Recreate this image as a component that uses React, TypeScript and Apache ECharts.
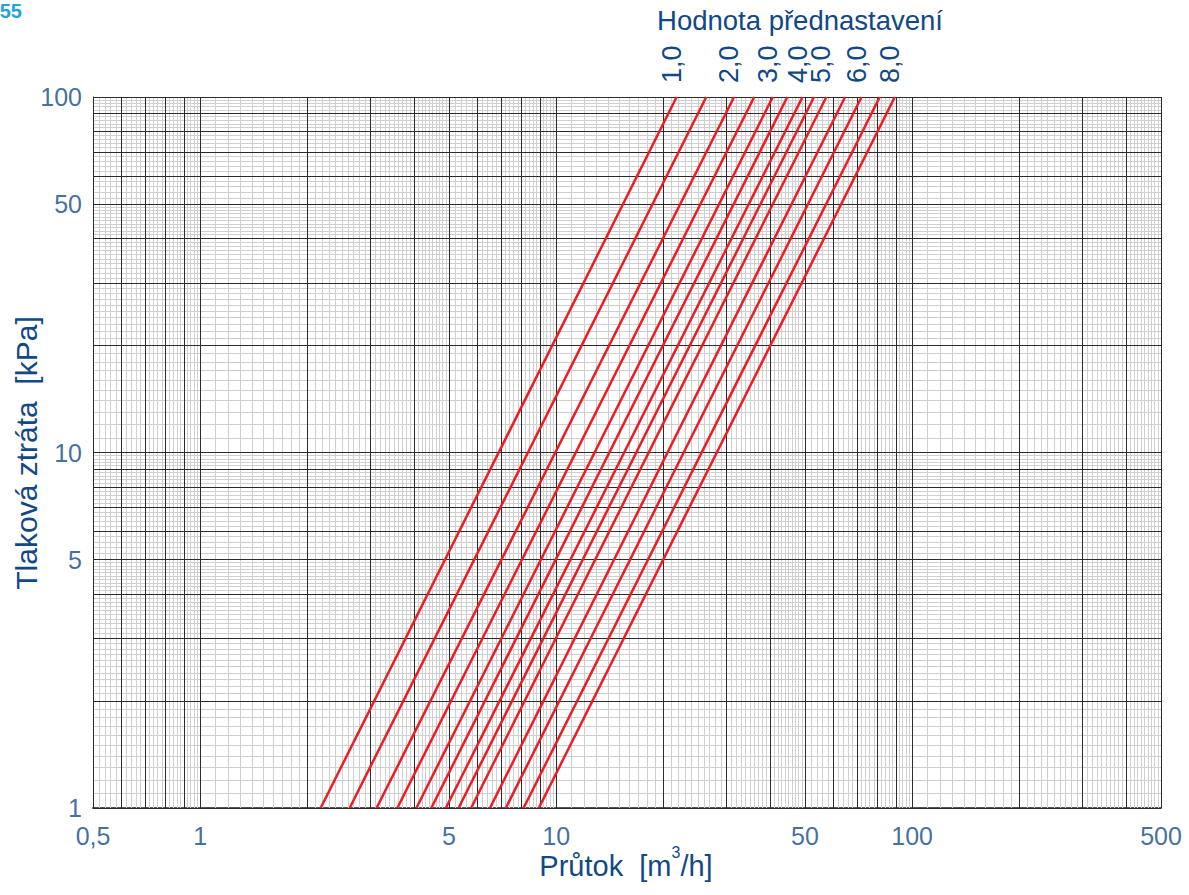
import React, { useEffect, useRef } from 'react';
import * as echarts from 'echarts';

// Presetting values of the valve (one red line each)
const settings = ['1,0', '1,5', '2,0', '2,5', '3,0', '3,5', '4,0', '4,5', '5,0', '5,5', '6,0', '7,0', '8,0'];
// Flow [m3/h] where each line crosses 1 kPa and 100 kPa
const flowAt1kPa = [2.18, 2.63, 3.13, 3.58, 4.05, 4.46, 4.9, 5.32, 5.77, 6.52, 7.22, 8.1, 8.94];
const flowAt100kPa = [21.8, 26.4, 31.6, 36.0, 40.6, 44.6, 49.2, 53.0, 57.4, 64.8, 72.1, 81.1, 89.4];
// Settings that carry a label above the chart
const labelledSettings = ['1,0', '2,0', '3,0', '4,0', '5,0', '6,0', '8,0'];

// Axis ranges and tick labels
const flowRange = [0.5, 500];
const pressureRange = [1, 100];
const flowTicks = [0.5, 1, 5, 10, 50, 100, 500];
const pressureTicks = [1, 5, 10, 50, 100];

const FONT = '"Liberation Sans", Arial, Helvetica, sans-serif';
const BLUE = '#114888';
const RED = '#ec1c24';
const MAJOR = '#2b2b2b';
const MINOR = '#cfcfcf';

const fmt = (v: number) => String(v).replace('.', ',');

// Log-paper rulings: mantissa 1..5 in 0.1 steps, 5..10 in 0.2 steps,
// every whole mantissa drawn dark.
function paperLines(lo: number, hi: number) {
  const major: number[] = [];
  const minor: number[] = [];
  for (let e = -2; e <= 3; e++) {
    const base = Math.pow(10, e);
    for (let k = 10; k < 100; k++) {
      if (k >= 50 && k % 2 === 1) continue;
      const v = Number(((k * base) / 10).toPrecision(6));
      if (v < lo - 1e-9 || v > hi + 1e-9) continue;
      if (k % 10 === 0) major.push(v);
      else minor.push(v);
    }
  }
  return { major, minor };
}

const xLines = paperLines(flowRange[0], flowRange[1]);
const yLines = paperLines(pressureRange[0], pressureRange[1]);

function gridSeries(name: string, color: string, xs: number[], ys: number[], z: number) {
  return {
    type: 'line',
    name,
    data: [],
    silent: true,
    z,
    markLine: {
      silent: true,
      symbol: ['none', 'none'],
      label: { show: false },
      emphasis: { disabled: true },
      lineStyle: { type: 'solid', color, width: 1, opacity: 1 },
      data: [...xs.map((v) => ({ xAxis: v })), ...ys.map((v) => ({ yAxis: v }))],
    },
  };
}

// Setting labels stand upright above the top end of their line
// (offset is applied in the label's rotated frame).
const settingLabelStyle = {
  position: 'top',
  distance: 14,
  rotate: 90,
  align: 'left',
  verticalAlign: 'middle',
  offset: [0, -5],
  fontSize: 27,
  fontFamily: FONT,
  color: BLUE,
};

const valveSeries = settings.map((s, i) => ({
  type: 'line',
  name: s,
  clip: false,
  silent: true,
  z: 5,
  showSymbol: true,
  symbol: 'circle',
  symbolSize: 0,
  lineStyle: { color: RED, width: 2.5 },
  itemStyle: { color: RED },
  label: { show: false, ...settingLabelStyle },
  data: [
    [flowAt1kPa[i], pressureRange[0]],
    {
      value: [flowAt100kPa[i], pressureRange[1]],
      label: labelledSettings.includes(s)
        ? { show: true, formatter: s, ...settingLabelStyle }
        : { show: false },
    },
  ],
}));

const tickLabelStyle = { fontSize: 25, fontFamily: FONT, color: BLUE };

const option = {
  animation: false,
  backgroundColor: '#ffffff',
  grid: { left: 93, right: 28, top: 97, bottom: 87 },
  xAxis: {
    type: 'log',
    logBase: 10,
    min: flowRange[0],
    max: flowRange[1],
    axisLine: { show: true, onZero: false, lineStyle: { color: '#555555', width: 2 } },
    axisTick: { show: false },
    axisLabel: { show: false },
    splitLine: { show: false },
  },
  yAxis: {
    type: 'log',
    logBase: 10,
    min: pressureRange[0],
    max: pressureRange[1],
    axisLine: { show: true, onZero: false, lineStyle: { color: '#222222', width: 1 } },
    axisTick: { show: false },
    axisLabel: { show: false },
    splitLine: { show: false },
  },
  series: [
    gridSeries('minor', MINOR, xLines.minor, yLines.minor, 1),
    gridSeries('major', MAJOR, xLines.major, yLines.major, 2),
    ...valveSeries,
    {
      type: 'scatter',
      name: 'flowTicks',
      clip: false,
      silent: true,
      symbolSize: 0,
      z: 6,
      data: flowTicks.map((v) => [v, pressureRange[0]]),
      label: {
        show: true,
        position: 'bottom',
        distance: 15,
        formatter: (p: any) => fmt(p.value[0]),
        ...tickLabelStyle,
      },
    },
    {
      type: 'scatter',
      name: 'pressureTicks',
      clip: false,
      silent: true,
      symbolSize: 0,
      z: 6,
      data: pressureTicks.map((v) => [flowRange[0], v]),
      label: {
        show: true,
        position: 'left',
        distance: 11,
        formatter: (p: any) => fmt(p.value[1]),
        ...tickLabelStyle,
      },
    },
  ],
  graphic: [
    {
      type: 'text',
      x: 22,
      y: 1,
      style: {
        text: '55',
        fontSize: 20,
        fontWeight: 'bold',
        fontFamily: FONT,
        fill: '#22a3e0',
        align: 'right',
        verticalAlign: 'top',
      },
    },
    {
      type: 'text',
      x: 800,
      y: 20,
      style: {
        text: 'Hodnota přednastavení',
        fontSize: 27.5,
        fontFamily: FONT,
        fill: BLUE,
        align: 'center',
        verticalAlign: 'middle',
      },
    },
    {
      type: 'text',
      x: 26,
      y: 453,
      rotation: Math.PI / 2,
      style: {
        text: 'Tlaková ztráta  [kPa]',
        fontSize: 30,
        fontFamily: FONT,
        fill: BLUE,
        align: 'center',
        verticalAlign: 'middle',
      },
    },
    {
      type: 'text',
      x: 626,
      y: 866,
      style: {
        text: '{t|Průtok  [m}{s|3}{t|/h]}',
        align: 'center',
        verticalAlign: 'middle',
        rich: {
          t: { fontSize: 29, fontFamily: FONT, fill: BLUE },
          s: { fontSize: 16, fontFamily: FONT, fill: BLUE, padding: [0, 0, 28, 0] },
        },
      },
    },
  ],
};

export default function App() {
  const ref = useRef<HTMLDivElement>(null);
  useEffect(() => {
    const chart = echarts.init(ref.current as HTMLDivElement, null, { renderer: 'svg' });
    chart.setOption(option as any);
    return () => chart.dispose();
  }, []);
  return (
    <div
      ref={ref}
      style={{ position: 'fixed', left: 0, top: 0, width: 1189, height: 895, background: '#fff' }}
    />
  );
}
